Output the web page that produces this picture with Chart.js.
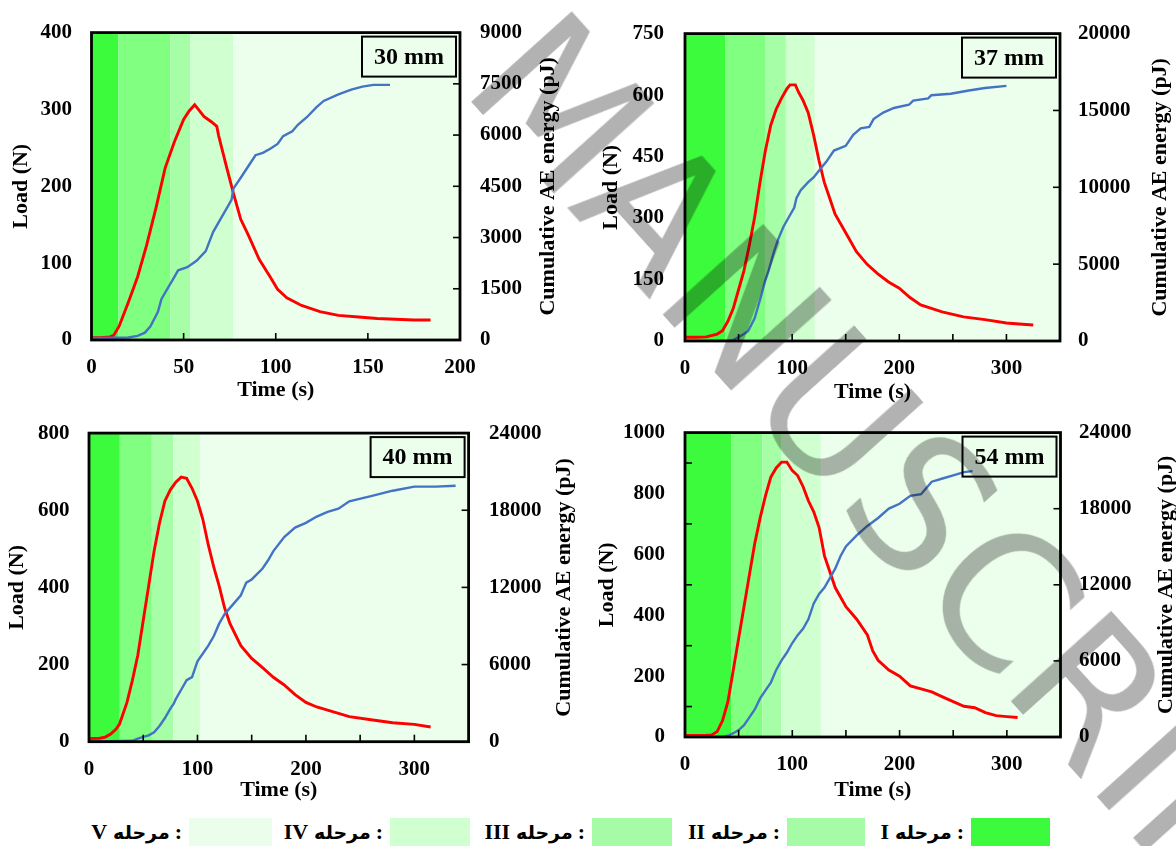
<!DOCTYPE html>
<html>
<head>
<meta charset="utf-8">
<script src="https://cdn.jsdelivr.net/npm/chart.js@4.4.1/dist/chart.umd.min.js"></script>
<style>
  html, body { margin:0; padding:0; background:#fff; }
  body { width:1176px; height:846px; position:relative; overflow:hidden; }
  canvas { position:absolute; }
  .leg-text { position:absolute; top:818px; height:28px; display:flex; justify-content:flex-end; align-items:center; direction:ltr; white-space:nowrap; color:#000; }
  .leg-text .lat { font: bold 22px 'Liberation Serif', serif; }
  .leg-text .ar { font: bold 19px 'DejaVu Sans', sans-serif; margin:0 5px 0 6px; }
  .leg-box { position:absolute; top:818px; height:28px; }
  #wm { position:absolute; left:575px; top:-16px; font: 185px 'DejaVu Sans', sans-serif; line-height:1; color:#b2b2b2; white-space:nowrap; transform-origin:0 0; transform:rotate(48deg); mix-blend-mode:multiply; pointer-events:none; z-index:5; }
</style>
</head>
<body>
<canvas id="c1" style="left:0px;top:0px;" width="590" height="410"></canvas>
<canvas id="c2" style="left:590px;top:0px;" width="586" height="410"></canvas>
<canvas id="c3" style="left:0px;top:400px;" width="590" height="410"></canvas>
<canvas id="c4" style="left:590px;top:400px;" width="586" height="410"></canvas>
<div id="legend"></div>
<div id="wm">MANUSCRIPT</div>
<script>
// ---------------- DATA ----------------
const STAGE_NAMES = ['I', 'II', 'III', 'IV', 'V'];
const STAGE_WORD = 'مرحله';
const STAGE_COLORS = ['#3cfa3c', '#80ff80', '#a6ffa6', '#d0ffd0', '#ecffec'];
const LEGEND_COLORS = ['#3cfa3c', '#a6fca6', '#a6fca6', '#d0ffd0', '#ebfdeb'];
const PANEL_LABELS = ['30 mm', '37 mm', '40 mm', '54 mm'];

// Panel 1 (30 mm)
const P1_STAGES = [14.5, 42.7, 53.7, 77];
const P1_LOAD_T = [0, 5, 10, 12, 15, 20, 25, 30, 35, 40, 45, 50, 53, 56, 58, 61, 65, 68, 69, 73, 77, 81, 85, 91, 97, 101, 106, 114, 124, 134, 145, 155, 165, 175, 184];
const P1_LOAD   = [3, 3, 4, 6, 18, 49, 82, 124, 172, 224, 258, 287, 298, 306, 300, 291, 284, 278, 266, 228, 191, 157, 137, 105, 82, 66, 55, 45, 37, 32, 30, 28, 27, 26, 26];
const P1_AE_T = [0, 20, 25, 29, 32, 36, 38, 41, 45, 47, 52, 57, 62, 66, 70, 74, 76, 77, 81, 85, 89, 93, 97, 101, 104, 109, 112, 117, 122, 126, 134, 141, 147, 153, 162];
const P1_AE   = [50, 75, 120, 215, 400, 820, 1200, 1480, 1850, 2040, 2130, 2320, 2600, 3160, 3540, 3910, 4100, 4430, 4750, 5080, 5410, 5480, 5600, 5740, 5970, 6110, 6300, 6530, 6810, 7000, 7190, 7330, 7420, 7470, 7470];

// Panel 2 (37 mm)
const P2_STAGES = [37.8, 75.3, 94.2, 121.2];
const P2_LOAD_T = [0, 10, 20, 30, 35, 40, 45, 50, 55, 60, 65, 70, 75, 80, 85, 90, 95, 98, 103, 106, 110, 115, 120, 125, 130, 135, 140, 150, 160, 170, 180, 190, 200, 210, 220, 240, 260, 280, 300, 315, 325];
const P2_LOAD   = [9, 9, 10, 17, 25, 48, 79, 125, 171, 233, 302, 387, 464, 526, 565, 592, 615, 625, 625, 607, 588, 557, 503, 441, 387, 349, 310, 264, 218, 187, 164, 144, 129, 106, 88, 71, 59, 52, 44, 41, 39];
const P2_AE_T = [0, 40, 45, 50, 55, 59, 65, 71, 75, 78, 83, 87, 92, 97, 102, 104, 108, 115, 120, 127, 132, 139, 150, 157, 164, 172, 176, 185, 195, 209, 213, 227, 230, 248, 265, 280, 300];
const P2_AE   = [0, 0, 60, 250, 450, 660, 1480, 2920, 3950, 4570, 5800, 6630, 7450, 8070, 8680, 9300, 9810, 10330, 10640, 11250, 11670, 12390, 12700, 13420, 13830, 13930, 14440, 14860, 15160, 15370, 15640, 15780, 15990, 16090, 16300, 16460, 16600];

// Panel 3 (40 mm)
const P3_STAGES = [28.4, 57.9, 77.7, 102.3];
const P3_LOAD_T = [0, 10, 15, 20, 25, 28, 30, 35, 40, 45, 50, 55, 60, 65, 70, 75, 80, 85, 90, 95, 100, 105, 110, 115, 120, 125, 130, 140, 150, 160, 170, 180, 190, 200, 210, 220, 240, 260, 280, 300, 315];
const P3_LOAD   = [8, 9, 12, 20, 33, 45, 61, 102, 159, 224, 314, 404, 494, 567, 624, 653, 673, 686, 683, 657, 624, 576, 510, 453, 404, 347, 306, 249, 216, 192, 167, 147, 122, 102, 90, 82, 65, 57, 49, 45, 38];
const P3_AE_T = [0, 40, 45, 50, 55, 60, 65, 70, 75, 78, 80, 85, 90, 95, 100, 105, 110, 115, 120, 125, 130, 140, 145, 150, 160, 165, 170, 180, 190, 200, 210, 220, 230, 240, 260, 280, 300, 320, 338];
const P3_AE   = [0, 70, 245, 370, 490, 735, 1225, 1840, 2570, 2940, 3310, 4040, 4780, 5020, 6245, 6860, 7470, 8200, 9180, 9920, 10410, 11390, 12370, 12620, 13470, 14090, 14820, 15920, 16650, 17020, 17510, 17880, 18120, 18690, 19100, 19520, 19840, 19840, 19910];

// Panel 4 (54 mm)
const P4_STAGES = [43.1, 72.2, 89.8, 126.6];
const P4_LOAD_T = [0, 10, 20, 25, 30, 35, 40, 45, 50, 55, 60, 65, 70, 75, 80, 85, 90, 95, 100, 105, 110, 115, 120, 125, 130, 135, 140, 150, 160, 170, 175, 180, 190, 200, 210, 220, 230, 240, 250, 260, 270, 280, 290, 300, 310];
const P4_LOAD   = [5, 5, 6, 7, 18, 54, 116, 220, 324, 428, 532, 636, 719, 792, 854, 884, 903, 903, 875, 859, 823, 776, 740, 688, 595, 543, 491, 428, 387, 335, 283, 252, 220, 200, 168, 158, 148, 132, 116, 101, 96, 80, 70, 67, 64];
const P4_AE_T = [0, 35, 40, 45, 50, 55, 60, 65, 70, 75, 80, 85, 90, 95, 100, 105, 110, 115, 120, 125, 130, 135, 140, 145, 150, 160, 170, 180, 190, 200, 210, 220, 230, 240, 250, 260, 268];
const P4_AE   = [0, 0, 100, 300, 550, 925, 1550, 2170, 3040, 3670, 4290, 5290, 6040, 6660, 7410, 8030, 8530, 9280, 10530, 11280, 11780, 12520, 13270, 14270, 15020, 15890, 16640, 17270, 18010, 18390, 19010, 19140, 20130, 20380, 20630, 20880, 20960];

// Axis ranges / tick steps
const X_MAX = [200, 350, 350, 350];
const X_STEP = [50, 50, 50, 50];
const X_LABEL_STEP = [50, 100, 100, 100];
const LOAD_MAX = [400, 750, 800, 1000];
const LOAD_STEP = [100, 150, 200, 100];
const LOAD_LABEL_STEP = [100, 150, 200, 200];
const AE_MAX = [9000, 20000, 24000, 24000];
const AE_STEP = [1500, 5000, 6000, 6000];

// ---------------- LAYOUT / STYLE ----------------
const FONT = "'Liberation Serif', 'Times New Roman', serif";
const RED = '#ff0000';
const BLUE = '#4472c4';
const LAYOUTS = [
  { leftW: 91.5, rightW: 130,   top: 19, xH: 70,   xPad: 15, xTitlePad: 6.8, yTitlePad: 8.3, yPad: 19.5, y2Pad: 20, y2TitleOff: 88,  leftMinor: false },
  { leftW: 95,   rightW: 116,   top: 17, xH: 69,   xPad: 15, xTitlePad: 4.8, yTitlePad: 7.8, yPad: 21,   y2Pad: 18, y2TitleOff: 100, leftMinor: false },
  { leftW: 89,   rightW: 121.4, top: 15, xH: 68.3, xPad: 15, xTitlePad: 6.8, yTitlePad: 4.5, yPad: 19.4, y2Pad: 20.5, y2TitleOff: 96, leftMinor: false },
  { leftW: 95,   rightW: 115.5, top: 16, xH: 73,   xPad: 15, xTitlePad: 6.8, yTitlePad: 4.5, yPad: 20,   y2Pad: 18.5, y2TitleOff: 105.5, leftMinor: true }
];

const PANELS = [
  { stages: P1_STAGES, lt: P1_LOAD_T, l: P1_LOAD, et: P1_AE_T, e: P1_AE },
  { stages: P2_STAGES, lt: P2_LOAD_T, l: P2_LOAD, et: P2_AE_T, e: P2_AE },
  { stages: P3_STAGES, lt: P3_LOAD_T, l: P3_LOAD, et: P3_AE_T, e: P3_AE },
  { stages: P4_STAGES, lt: P4_LOAD_T, l: P4_LOAD, et: P4_AE_T, e: P4_AE }
];

function pts(t, v) { return t.map((x, i) => ({ x: x, y: v[i] })); }

const panelPlugin = {
  id: 'panelDeco',
  beforeDatasetsDraw(chart) {
    const o = chart.options.plugins.panelDeco;
    const { ctx, chartArea: a, scales } = chart;
    const xs = scales.x;
    const b = [xs.min, ...o.stages, xs.max];
    ctx.save();
    for (let i = 0; i < 5; i++) {
      const x0 = xs.getPixelForValue(b[i]);
      const x1 = xs.getPixelForValue(b[i + 1]);
      ctx.fillStyle = STAGE_COLORS[i];
      ctx.fillRect(x0, a.top, x1 - x0, a.bottom - a.top);
    }
    ctx.restore();
  },
  afterDatasetsDraw(chart) {
    const o = chart.options.plugins.panelDeco;
    const { ctx, chartArea: a, scales } = chart;
    ctx.save();
    ctx.strokeStyle = '#000';
    ctx.lineWidth = 1.6;
    const TL = 7;
    for (let v = scales.x.min + o.xStep; v < scales.x.max; v += o.xStep) {
      const px = scales.x.getPixelForValue(v);
      ctx.beginPath(); ctx.moveTo(px, a.bottom); ctx.lineTo(px, a.bottom - TL); ctx.stroke();
    }
    for (let v = scales.y2.min + o.aeStep; v < scales.y2.max; v += o.aeStep) {
      const py = scales.y2.getPixelForValue(v);
      ctx.beginPath(); ctx.moveTo(a.right, py); ctx.lineTo(a.right - TL, py); ctx.stroke();
    }
    if (o.leftMinor) {
      for (let v = scales.y.min + o.loadStep; v < scales.y.max; v += 2 * o.loadStep) {
        const py = scales.y.getPixelForValue(v);
        ctx.beginPath(); ctx.moveTo(a.left, py); ctx.lineTo(a.left + TL, py); ctx.stroke();
      }
    }
    ctx.lineWidth = 2.8;
    ctx.strokeRect(a.left, a.top, a.right - a.left, a.bottom - a.top);
    const bw = 94, bh = 40;
    const bx = a.right - 4 - bw, by = a.top + 4;
    ctx.lineWidth = 2;
    ctx.strokeRect(bx, by, bw, bh);
    ctx.fillStyle = '#000';
    ctx.font = 'bold 24px ' + FONT;
    ctx.textAlign = 'center';
    ctx.textBaseline = 'middle';
    ctx.fillText(o.label, bx + bw / 2, by + bh / 2 + 1);
    ctx.translate(a.right + o.y2TitleOff, (a.top + a.bottom) / 2);
    ctx.rotate(-Math.PI / 2);
    ctx.font = 'bold 22px ' + FONT;
    ctx.fillText('Cumulative AE energy (pJ)', 0, 0);
    ctx.restore();
  }
};

function makeChart(idx) {
  const P = PANELS[idx], L = LAYOUTS[idx];
  const tickFont = { family: FONT, size: 21, weight: 'bold' };
  const titleFont = { family: FONT, size: 22, weight: 'bold' };
  new Chart(document.getElementById('c' + (idx + 1)), {
    type: 'line',
    data: {
      datasets: [
        { data: pts(P.et, P.e), yAxisID: 'y2', borderColor: BLUE, borderWidth: 2.4, pointRadius: 0, tension: 0, fill: false },
        { data: pts(P.lt, P.l), yAxisID: 'y', borderColor: RED, borderWidth: 2.9, pointRadius: 0, tension: 0, fill: false }
      ]
    },
    options: {
      responsive: false,
      animation: false,
      events: [],
      layout: { padding: { top: L.top, left: 0, right: 0, bottom: 0 } },
      plugins: {
        legend: { display: false },
        tooltip: { enabled: false },
        panelDeco: { stages: P.stages, label: PANEL_LABELS[idx], xStep: X_STEP[idx], aeStep: AE_STEP[idx], loadStep: LOAD_STEP[idx], leftMinor: L.leftMinor, y2TitleOff: L.y2TitleOff }
      },
      scales: {
        x: {
          type: 'linear', min: 0, max: X_MAX[idx],
          afterFit: s => { s.height = L.xH; },
          grid: { display: false, drawTicks: false },
          border: { display: false },
          ticks: { stepSize: X_STEP[idx], autoSkip: false, maxRotation: 0, padding: L.xPad, color: '#000', font: tickFont,
                   callback: v => (v % X_LABEL_STEP[idx] === 0 && !(idx > 0 && v === X_MAX[idx])) ? String(v) : '' },
          title: { display: true, text: 'Time (s)', color: '#000', font: titleFont, padding: { top: 0, bottom: L.xTitlePad } }
        },
        y: {
          position: 'left', min: 0, max: LOAD_MAX[idx],
          afterFit: s => { s.width = L.leftW; },
          grid: { display: false, drawTicks: false },
          border: { display: false },
          ticks: { stepSize: LOAD_STEP[idx], autoSkip: false, padding: L.yPad, color: '#000', font: tickFont,
                   callback: v => (v % LOAD_LABEL_STEP[idx] === 0) ? String(v) : '' },
          title: { display: true, text: 'Load (N)', color: '#000', font: titleFont, padding: { top: L.yTitlePad, bottom: 0 } }
        },
        y2: {
          position: 'right', min: 0, max: AE_MAX[idx],
          afterFit: s => { s.width = L.rightW; },
          grid: { display: false, drawTicks: false },
          border: { display: false },
          ticks: { stepSize: AE_STEP[idx], autoSkip: false, padding: L.y2Pad, color: '#000', font: tickFont, callback: v => String(v) },
          title: { display: false }
        }
      }
    },
    plugins: [panelPlugin]
  });
}
[0, 1, 2, 3].forEach(makeChart);

// ---------------- LEGEND ----------------
const LEG_BOX_X = [971, 787, 592, 390, 189];   // stages I..V
const LEG_BOX_W = [79, 78, 80, 80, 83];
const legend = document.getElementById('legend');
STAGE_NAMES.forEach((name, i) => {
  const t = document.createElement('div');
  t.className = 'leg-text';
  t.style.left = '0px';
  t.style.width = (LEG_BOX_X[i] - 7) + 'px';
  const s1 = document.createElement('span'); s1.className = 'lat'; s1.textContent = name;
  const s2 = document.createElement('span'); s2.className = 'ar'; s2.textContent = STAGE_WORD;
  const s3 = document.createElement('span'); s3.className = 'lat'; s3.textContent = ':';
  t.appendChild(s1); t.appendChild(s2); t.appendChild(s3);
  legend.appendChild(t);
  const b = document.createElement('div');
  b.className = 'leg-box';
  b.style.left = LEG_BOX_X[i] + 'px';
  b.style.width = LEG_BOX_W[i] + 'px';
  b.style.background = LEGEND_COLORS[i];
  legend.appendChild(b);
});
</script>
</body>
</html>
